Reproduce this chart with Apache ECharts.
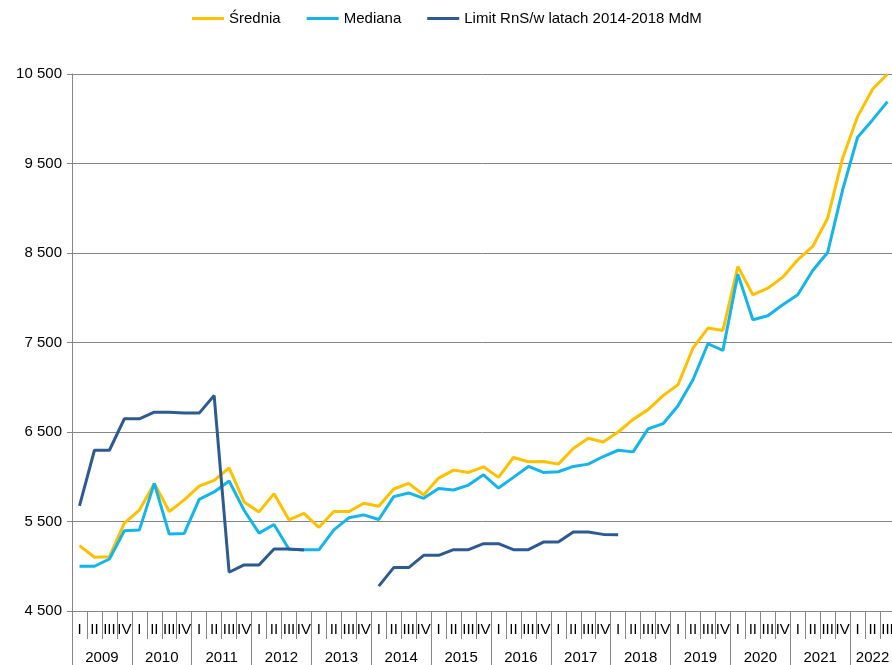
<!DOCTYPE html>
<html>
<head>
<meta charset="utf-8">
<script src="https://cdn.jsdelivr.net/npm/echarts@6/dist/echarts.min.js"></script>
<style>
html,body{margin:0;padding:0;background:#fff;}
#chart{width:892px;height:665px;}
</style>
</head>
<body>
<div id="chart"></div>
<script>
const years = ['2009','2010','2011','2012','2013','2014','2015','2016','2017','2018','2019','2020','2021','2022'];
const quarterNames = ['I','II','III','IV'];
const lastYearQuarters = 3; // data runs through 2022 Q3
const quarters = [];
years.forEach(function(y, yi){
  const n = (yi === years.length - 1) ? lastYearQuarters : 4;
  for (let q = 0; q < n; q++) quarters.push(quarterNames[q]);
});

const seriesNames = ['Średnia','Mediana','Limit RnS/w latach 2014-2018 MdM'];

const srednia = [5230,5100,5107,5481,5626,5926,5611,5741,5896,5959,6100,5719,5607,5811,5519,5590,
  5435,5611,5611,5704,5670,5863,5926,5796,5985,6074,6048,6111,5993,6215,6167,6170,6141,6315,6430,6389,
  6500,6641,6750,6906,7028,7438,7661,7635,8349,8033,8107,8230,8424,8573,8889,9559,10024,10329,10500];

const mediana = [5000,5000,5081,5396,5404,5926,5359,5367,5748,5830,5952,5626,5370,5467,5190,5183,
  5183,5407,5541,5574,5522,5778,5819,5759,5870,5852,5907,6022,5874,5993,6115,6048,6056,6115,6141,6226,
  6296,6278,6535,6593,6794,7084,7486,7412,8264,7754,7799,7921,8033,8305,8506,9205,9793,9987,10191];

const limit = [5674,6296,6296,6648,6648,6722,6720,6711,6711,6907,4933,5015,5015,5193,5193,5181,
  null,null,null,null,4778,4985,4985,5122,5122,5185,5185,5252,5252,5185,5185,5270,5270,5382,5382,5356,
  5352];

const FONT = '"Liberation Sans", Arial, sans-serif';
const GRAY = '#868686';
const lastYearStart = (years.length - 1) * 4;

const chart = echarts.init(document.getElementById('chart'), null, {renderer:'canvas'});
chart.setOption({
  animation: false,
  backgroundColor: '#ffffff',
  legend: {
    top: 6, left: 187,
    icon: 'rect', itemWidth: 32, itemHeight: 3, itemGap: 26,
    textStyle: {fontFamily: FONT, fontSize: 15, color: '#000'},
    data: seriesNames
  },
  grid: {left: 72, top: 74, width: 823, height: 537, containLabel: false, outerBoundsMode: 'none'},
  xAxis: [
    {
      type: 'category', data: quarters, position: 'bottom', boundaryGap: true,
      axisLine: {show: true, lineStyle: {color: GRAY, width: 1}},
      axisTick: {show: true, interval: 0, length: 28, lineStyle: {color: GRAY}},
      axisLabel: {interval: 0, margin: 11, fontFamily: FONT, fontSize: 15, color: '#000'},
      splitLine: {show: false}
    },
    {
      type: 'category', data: quarters, position: 'bottom', boundaryGap: true, offset: 0,
      axisLine: {show: false},
      axisTick: {show: true, length: 56, lineStyle: {color: GRAY},
        interval: function(index){ return index % 4 === 0; }},
      axisLabel: {
        interval: 0, margin: 39, fontFamily: FONT, fontSize: 15, color: '#000',
        formatter: function(value, index){
          if (index % 4 !== 1) return '';
          const y = years[Math.floor(index / 4)];
          return (index - 1 === lastYearStart && lastYearQuarters === 3) ? '{n|' + y + '}' : '{s|' + y + '}';
        },
        rich: {
          s: {fontFamily: FONT, fontSize: 15, color: '#000', padding: [0, 0, 0, 15]},
          n: {fontFamily: FONT, fontSize: 15, color: '#000'}
        }
      },
      splitLine: {show: false}
    }
  ],
  yAxis: {
    type: 'value', min: 4500, max: 10500, interval: 1000,
    axisLine: {show: true, lineStyle: {color: GRAY, width: 1}},
    axisTick: {show: true, length: 5, lineStyle: {color: GRAY}},
    axisLabel: {
      margin: 10, fontFamily: FONT, fontSize: 15, color: '#000',
      formatter: function(v){ return String(v).replace(/\B(?=(\d{3})+(?!\d))/g, ' '); }
    },
    splitLine: {show: true, lineStyle: {color: GRAY, width: 1}}
  },
  series: [
    {name: seriesNames[0], type: 'line', data: srednia, xAxisIndex: 0, symbol: 'none',
     lineStyle: {color: '#FFC000', width: 3}, itemStyle: {color: '#FFC000'}},
    {name: seriesNames[1], type: 'line', data: mediana, xAxisIndex: 0, symbol: 'none',
     lineStyle: {color: '#13B5EA', width: 3}, itemStyle: {color: '#13B5EA'}},
    {name: seriesNames[2], type: 'line', data: limit, xAxisIndex: 0, symbol: 'none', connectNulls: false,
     lineStyle: {color: '#2E5A92', width: 3}, itemStyle: {color: '#2E5A92'}}
  ]
});
</script>
</body>
</html>
